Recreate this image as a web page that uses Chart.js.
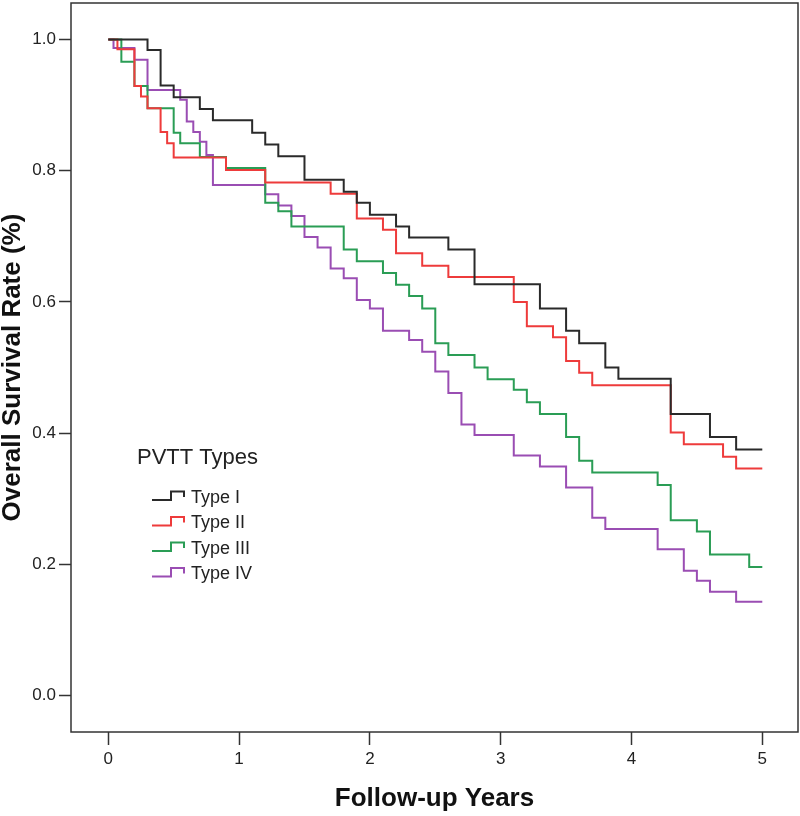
<!DOCTYPE html>
<html><head><meta charset="utf-8">
<script src="https://cdn.jsdelivr.net/npm/chart.js@4.4.1/dist/chart.umd.min.js"></script>
<style>html,body{margin:0;padding:0;background:#fff;overflow:hidden}</style>
</head><body>
<canvas id="c" width="800" height="816"></canvas>
<script>
// ---- data ----
const seriesLabels = ['Type I', 'Type II', 'Type III', 'Type IV'];
const legendTitle = 'PVTT Types';
const xTitle = 'Follow-up Years';
const yTitle = 'Overall Survival Rate (%)';
const xTickValues = [0, 1, 2, 3, 4, 5];
const yTickValues = [0, 0.2, 0.4, 0.6, 0.8, 1.0];

const typeITimes = [0, 0.30, 0.40, 0.50, 0.70, 0.80, 1.10, 1.20, 1.30, 1.50, 1.80, 1.90, 2.00, 2.20, 2.30, 2.60, 2.80, 3.30, 3.50, 3.60, 3.80, 3.90, 4.30, 4.60, 4.80, 5.00];
const typeISurv  = [1.0, 0.984, 0.930, 0.912, 0.894, 0.877, 0.858, 0.840, 0.822, 0.786, 0.768, 0.751, 0.733, 0.715, 0.698, 0.680, 0.627, 0.590, 0.556, 0.537, 0.500, 0.483, 0.429, 0.394, 0.375, 0.375];

const typeIITimes = [0, 0.07, 0.20, 0.25, 0.30, 0.40, 0.45, 0.50, 0.90, 1.20, 1.70, 1.90, 2.10, 2.20, 2.40, 2.60, 3.10, 3.20, 3.40, 3.50, 3.60, 3.70, 4.30, 4.40, 4.70, 4.80, 5.00];
const typeIISurv  = [1.0, 0.985, 0.929, 0.913, 0.895, 0.859, 0.842, 0.820, 0.801, 0.782, 0.765, 0.727, 0.710, 0.674, 0.655, 0.638, 0.600, 0.563, 0.546, 0.510, 0.492, 0.473, 0.401, 0.383, 0.364, 0.346, 0.346];

const typeIIITimes = [0, 0.10, 0.20, 0.30, 0.50, 0.55, 0.70, 0.90, 1.20, 1.30, 1.40, 1.80, 1.90, 2.10, 2.20, 2.30, 2.40, 2.50, 2.60, 2.80, 2.90, 3.10, 3.20, 3.30, 3.50, 3.60, 3.70, 4.20, 4.30, 4.50, 4.60, 4.90, 5.00];
const typeIIISurv  = [1.0, 0.966, 0.929, 0.895, 0.858, 0.842, 0.821, 0.804, 0.751, 0.738, 0.715, 0.680, 0.662, 0.644, 0.626, 0.609, 0.590, 0.537, 0.519, 0.500, 0.482, 0.466, 0.447, 0.429, 0.394, 0.358, 0.340, 0.321, 0.267, 0.250, 0.215, 0.196, 0.196];

const typeIVTimes = [0, 0.04, 0.20, 0.30, 0.55, 0.60, 0.65, 0.70, 0.75, 0.80, 1.20, 1.30, 1.40, 1.50, 1.60, 1.70, 1.80, 1.90, 2.00, 2.10, 2.30, 2.40, 2.50, 2.60, 2.70, 2.80, 3.10, 3.30, 3.50, 3.70, 3.80, 4.20, 4.40, 4.50, 4.60, 4.80, 5.00];
const typeIVSurv  = [1.0, 0.987, 0.969, 0.923, 0.908, 0.875, 0.859, 0.844, 0.824, 0.778, 0.764, 0.747, 0.731, 0.699, 0.683, 0.651, 0.636, 0.603, 0.590, 0.556, 0.542, 0.524, 0.494, 0.461, 0.413, 0.397, 0.366, 0.349, 0.317, 0.271, 0.254, 0.223, 0.190, 0.175, 0.158, 0.143, 0.143];

const seriesColors = ['#2a2a2a', '#ee3b3b', '#2a9d55', '#9a4db3'];

// ---- build datasets ----
const toPoints = (ts, ss) => ts.map((t, i) => ({ x: t, y: ss[i] }));
const allTimes = [typeITimes, typeIITimes, typeIIITimes, typeIVTimes];
const allSurv = [typeISurv, typeIISurv, typeIIISurv, typeIVSurv];
const datasets = seriesLabels.map((lab, i) => ({
  label: lab,
  data: toPoints(allTimes[i], allSurv[i]),
  borderColor: seriesColors[i],
  backgroundColor: seriesColors[i],
  borderWidth: 2,
  stepped: 'before',
  pointRadius: 0,
  tension: 0,
  fill: false
}));

const FONT = "'Liberation Sans', Arial, sans-serif";
const AXIS = '#333333';

const framePlugin = {
  id: 'frame',
  afterDraw(chart) {
    const { ctx, chartArea: a } = chart;
    ctx.save();
    ctx.strokeStyle = AXIS;
    ctx.lineWidth = 1.5;
    ctx.strokeRect(a.left, a.top, a.right - a.left, a.bottom - a.top);
    ctx.restore();
  }
};

const legendPlugin = {
  id: 'kmLegend',
  afterDatasetsDraw(chart) {
    const { ctx } = chart;
    ctx.save();
    ctx.fillStyle = '#222';
    ctx.textBaseline = 'middle';
    ctx.textAlign = 'left';
    ctx.font = '22px ' + FONT;
    ctx.fillText(legendTitle, 137, 458);
    ctx.font = '18px ' + FONT;
    chart.data.datasets.forEach((ds, i) => {
      const cy = 498 + i * 25.5;
      ctx.strokeStyle = ds.borderColor;
      ctx.lineWidth = 2;
      ctx.beginPath();
      ctx.moveTo(152, cy + 2);
      ctx.lineTo(171, cy + 2);
      ctx.lineTo(171, cy - 6.5);
      ctx.lineTo(184, cy - 6.5);
      ctx.lineTo(184, cy - 1);
      ctx.stroke();
      ctx.fillStyle = '#222';
      ctx.fillText(ds.label, 191, cy);
    });
    ctx.restore();
  }
};

new Chart(document.getElementById('c'), {
  type: 'line',
  data: { datasets },
  plugins: [framePlugin, legendPlugin],
  options: {
    responsive: false,
    animation: false,
    devicePixelRatio: 1,
    layout: { padding: { left: 0, top: 3, right: 2, bottom: 0 } },
    plugins: { legend: { display: false }, tooltip: { enabled: false } },
    scales: {
      x: {
        type: 'linear',
        min: -0.285, max: 5.273,
        afterBuildTicks: s => { s.ticks = xTickValues.map(v => ({ value: v })); },
        afterFit: s => { s.height = 84; s.paddingLeft = 0; s.paddingRight = 0; },
        border: { display: false },
        grid: { drawOnChartArea: false, drawTicks: true, tickLength: 13, tickColor: AXIS, tickWidth: 1.5 },
        ticks: { font: { family: FONT, size: 17 }, color: '#222', padding: 4, maxRotation: 0, autoSkip: false,
                 callback: v => String(v) },
        title: { display: true, text: xTitle, color: '#111', padding: { top: 0, bottom: 4 },
                 font: { family: FONT, size: 26, weight: 'bold', lineHeight: 1 } }
      },
      y: {
        type: 'linear',
        min: -0.0556, max: 1.0556,
        afterBuildTicks: s => { s.ticks = yTickValues.map(v => ({ value: v })); },
        afterFit: s => { s.width = 71; s.paddingTop = 0; s.paddingBottom = 0; },
        border: { display: false },
        grid: { drawOnChartArea: false, drawTicks: true, tickLength: 12, tickColor: AXIS, tickWidth: 1.5 },
        ticks: { font: { family: FONT, size: 17 }, color: '#222', padding: 3, autoSkip: false,
                 callback: v => Number(v).toFixed(1) },
        title: { display: true, text: yTitle, color: '#111', padding: { top: 0, bottom: 0 },
                 font: { family: FONT, size: 26, weight: 'bold', lineHeight: 1 } }
      }
    }
  }
});
</script>
</body></html>
